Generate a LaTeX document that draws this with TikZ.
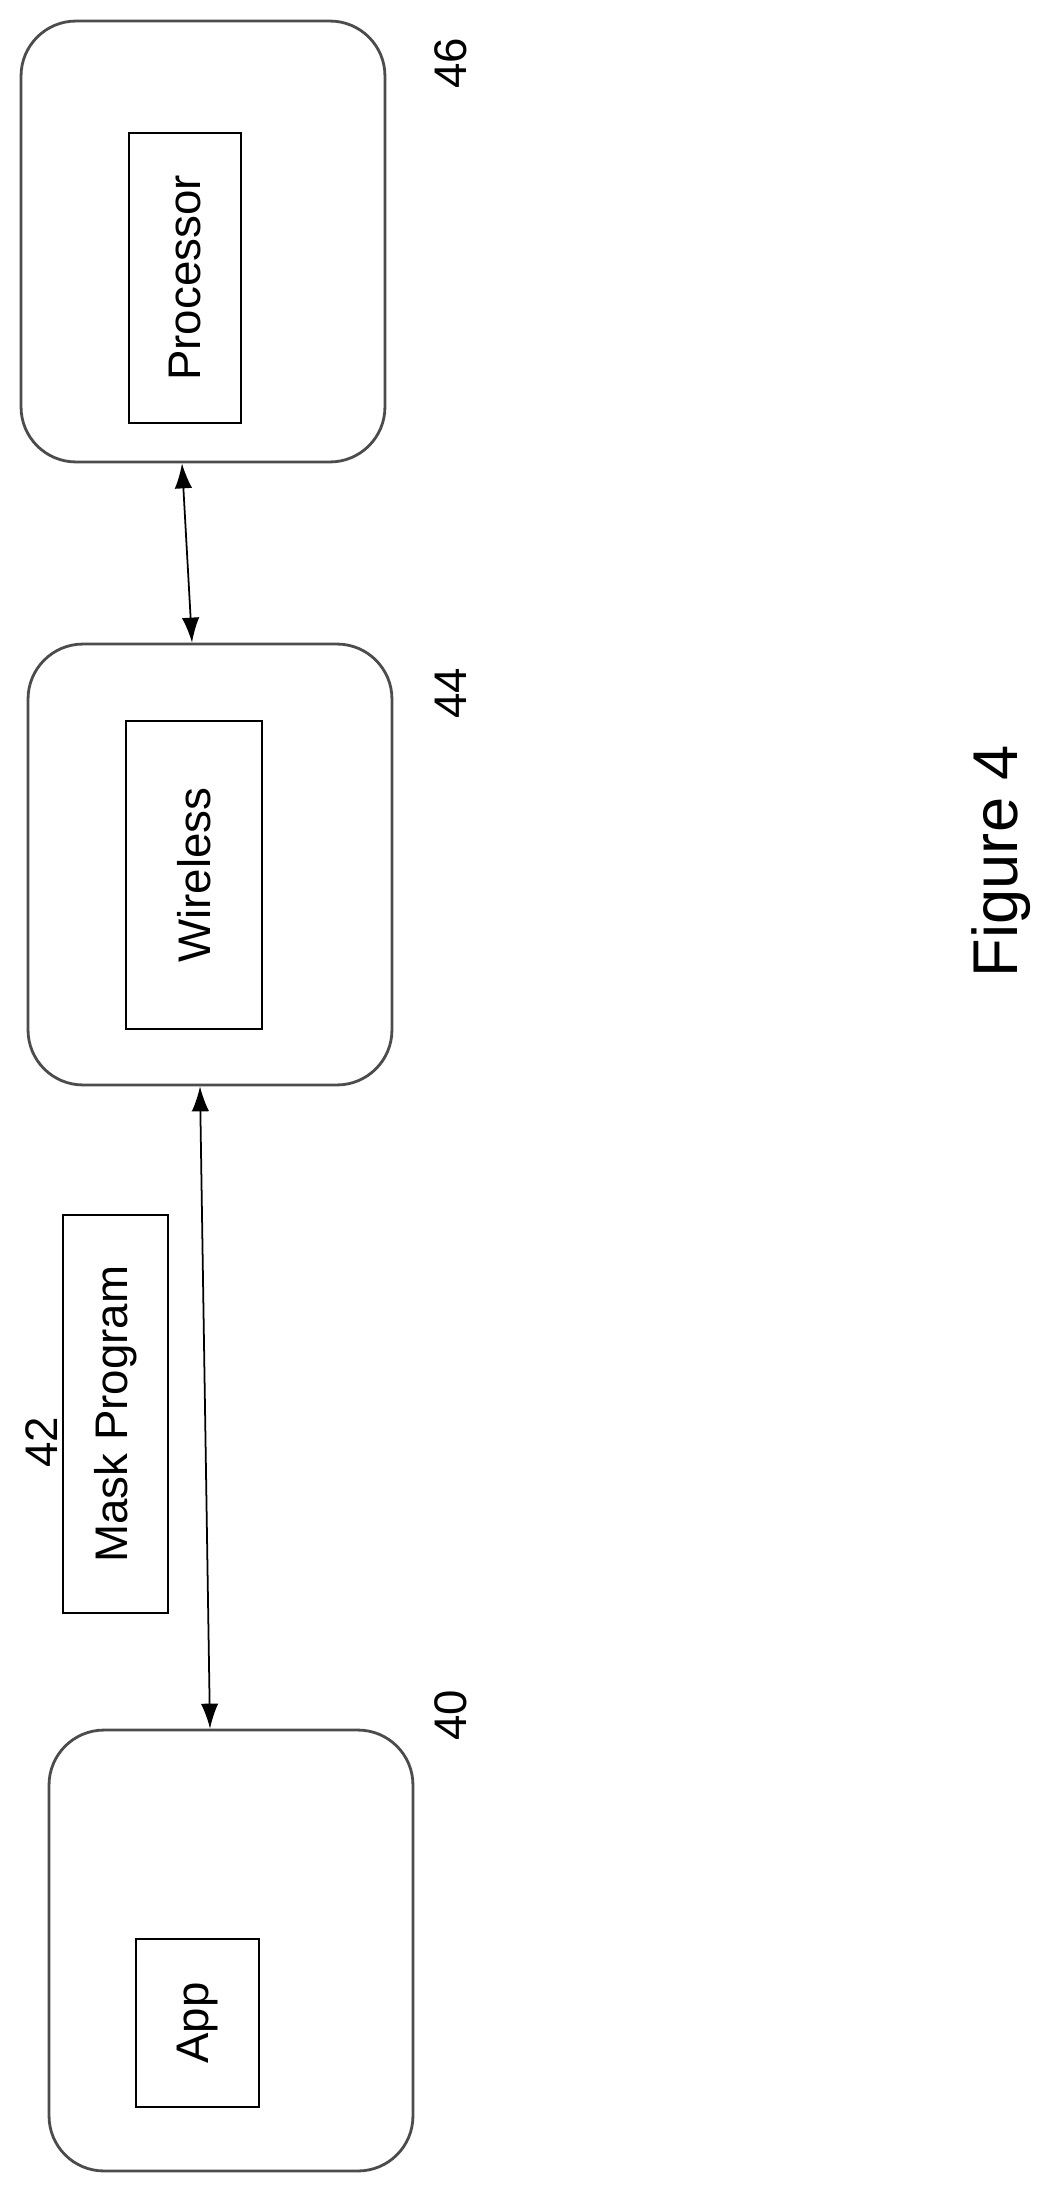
\documentclass[tikz,border=0pt]{standalone}
\usepackage{fontspec}
\setmainfont{Liberation Sans}
\usetikzlibrary{arrows.meta}

\begin{document}
\begin{tikzpicture}[x=0.02cm,y=-0.02cm]
      \tikzstyle{unit}=[draw=black!70, line width=1.6pt, rounded corners=1.1cm, minimum width=7.28cm, minimum height=8.82cm, inner sep=0pt]
      \tikzstyle{part}=[draw, line width=1pt, rotate=90, font=\fontsize{26}{30}\selectfont, inner sep=0pt]
      \tikzstyle{refnum}=[rotate=90, font=\fontsize{26}{30}\selectfont]
      \tikzstyle{link}=[line width=1pt, {Latex[length=5mm,width=3.5mm]}-{Latex[length=5mm,width=3.5mm]}]

      \useasboundingbox (0,0) rectangle (1037,2207);

      % three units
      \node [unit] (processor_unit) at (203,241.5) {};
      \node [unit] (wireless_unit) at (210,864.5) {};
      \node [unit] (app_unit) at (231,1950.5) {};

      % inner parts
      \node [part, minimum width=5.8cm, minimum height=2.24cm] (processor) at (185,278) {Processor};
      \node [part, minimum width=6.16cm, minimum height=2.72cm] (wireless) at (194,875) {Wireless};
      \node [part, minimum width=3.36cm, minimum height=2.46cm] (app) at (197.5,2023) {App};
      \node [part, minimum width=7.96cm, minimum height=2.1cm] (mask) at (115.5,1414) {Mask Program};

      % reference numbers
      \node [refnum] (num46) at (451,63) {46};
      \node [refnum] (num44) at (451,693) {44};
      \node [refnum] (num40) at (451,1715) {40};
      \node [refnum] (num42) at (42,1442) {42};
      \node [rotate=90, font=\fontsize{36}{40}\selectfont] (caption) at (1001,861) {Figure 4};

      % links
      \draw [link] ([xshift=-0.42cm]processor_unit.south) -- ([xshift=-0.36cm]wireless_unit.north);
      \draw [link] ([xshift=-0.2cm]wireless_unit.south) -- ([xshift=-0.42cm]app_unit.north);
\end{tikzpicture}
\end{document}
